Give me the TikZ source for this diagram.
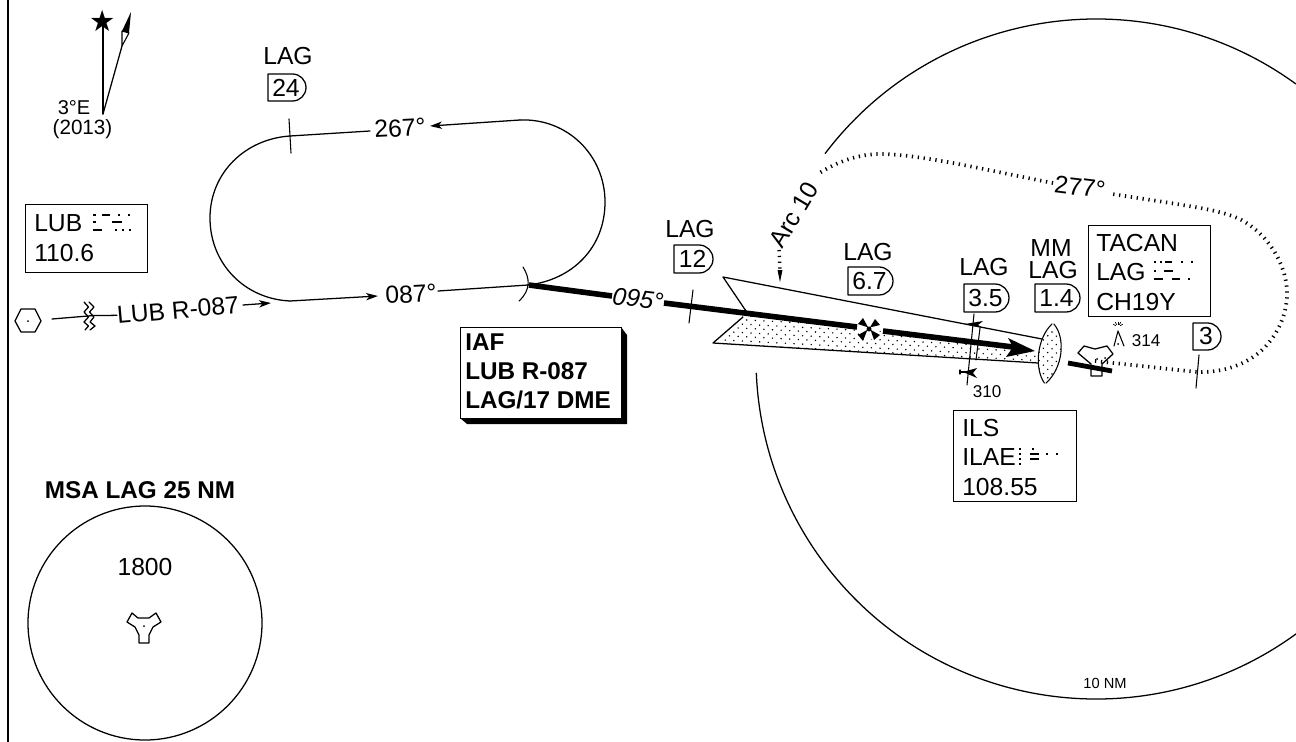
\documentclass[tikz,border=0pt]{standalone}
\usepackage{fontspec}
\setmainfont{Liberation Sans}
\usetikzlibrary{arrows.meta}
\tikzset{
  line/.style={line width=0.95pt,line cap=round,line join=round},
  thin line/.style={line width=0.8pt,line cap=round,line join=round},
  track/.style={line width=4.2pt},
  tipped/.style={line,-{Stealth[length=9pt,width=5.5pt,inset=2.5pt]}},
  ticks/.style={line width=2.8pt,dash pattern=on 0.95pt off 3.5pt},
  morsemark/.style={line width=0.95pt},
  label/.style={inner sep=0pt,font=\fontsize{18.5}{18}\selectfont},
  small label/.style={inner sep=0pt,font=\fontsize{12.8}{13}\selectfont},
  bold label/.style={inner sep=0pt,font=\bfseries\fontsize{18.2}{18}\selectfont},
  left label/.style={label,anchor=west},
  bold left/.style={bold label,anchor=west},
  infobox/.style={draw,line width=1.1pt,anchor=north west,inner sep=0pt},
}
\newcommand{\badge}[6]{% name x1 y1 x2 y2 text
  \draw[line] (#2,#3) -- ({#4-(#5-#3)/2},#3) arc[start angle=-90,end angle=90,radius={(#5-#3)/2}] -- (#2,#5) -- cycle;
  \node[label] (#1) at ({#2+(#4-#2)/2-1},{(#3+#5)/2}) {#6};
}
\newcommand{\stipple}{%
  \foreach \r in {0,...,18}{
    \foreach \c in {0,...,42}{
      \fill ({708+\c*8.6+mod(\r,2)*4.3},{314+\r*4.2+\c*0.45}) circle[radius=0.8];
    }
  }
}
\begin{document}
\begin{tikzpicture}[x=0.75pt,y=-0.75pt]
\useasboundingbox (0,0) rectangle (1296,742);
% frame edge
\coordinate (frameT) at (8,0);
\coordinate (frameB) at (8,742);
\draw[line width=1.1pt] (frameT) -- (frameB);

% north arrows
\coordinate (magO) at (103,114);
\node[inner sep=0pt,font=\fontsize{22}{22}\selectfont] (star) at (103,21) {\fontspec{DejaVu Sans}★};
\coordinate (magK) at (122,46);
\draw[line] (magO) -- (103,26);
\draw[line] (magO) -- (magK);
\draw[thin line,fill=white] (122,31) -- (129,33) -- (magK) -- cycle;
\fill (131,12) -- (122,31) -- (129,33) -- cycle;
\node[inner sep=0pt,font=\fontsize{15}{15}\selectfont] (var) at (74,108) {3°E};
\node[inner sep=0pt,font=\fontsize{15.5}{15}\selectfont] (year) at (82.5,129) {(2013)};

% LUB box
\node[infobox,minimum width=122*0.75pt,minimum height=68*0.75pt] (lubbox) at (25,204) {};
\node[left label] (lubid) at (34,223) {LUB};
\node[left label] (lubfr) at (34,253) {110.6};
\draw[morsemark] (93,215)--(96,215) (102,215)--(110,215) (118,215)--(120,215) (128,215)--(130,215)
  (93,222)--(96,222) (112,222)--(122,222)
  (93,230)--(102,230) (115,230)--(117,230) (122,230)--(124,230) (129,230)--(131,230);

% VOR hexagon and radial
\node[inner sep=0pt] (hexc) at (28,321) {};
\draw[line] (15,321)--(21,309)--(35,309)--(41,321)--(35,332)--(21,332)--cycle;
\fill (hexc) circle[radius=1];
\coordinate (rad1) at (52,319);
\coordinate (rad3) at (94,315.5);
\node[label,rotate=5] (radial) at (178,310) {LUB R-087};
\draw[line] (rad1) -- (rad3) -- (radial.west);
\draw[line] (84,302)--(88.5,307)--(84,312)--(88.5,317)--(84,322)--(88.5,326)--(85,330);
\draw[line] (89,302)--(94,307)--(89.5,312)--(94,317)--(90,322)--(95,326)--(90,330);
\coordinate (ra1) at (243,305);
\coordinate (ra2) at (271,303);
\draw[tipped] (ra1) -- (ra2);

% holding pattern
\coordinate (hLL) at (290,301);
\coordinate (hLU) at (290,136);
\coordinate (hRL) at (528,285);
\coordinate (hRU) at (520,120);
\node[label,rotate=3] (t087) at (411,294) {087°};
\node[label,rotate=3] (t267) at (400,128) {267°};
\coordinate (h087a) at (378,296);
\coordinate (h087b) at (438,291);
\coordinate (h267a) at (430,126);
\coordinate (h267b) at (370,131);
\draw[tipped] (hLL) -- (h087a);
\draw[line] (h087b) -- (hRL);
\draw[tipped] (hRU) -- (h267a);
\draw[line] (h267b) -- (hLU);
\draw[line] (hLU) .. controls (245,139) and (210,173) .. (210,218) .. controls (210,264) and (245,299) .. (hLL);
\draw[line] (hRU) .. controls (567,118) and (605,155) .. (605,202) .. controls (605,248) and (572,280) .. (hRL);
\draw[thin line] (289,119) -- (291,153);
\draw[thin line] (523,267) .. controls (530,278) and (531,290) .. (519,301);
\node[label] (l24) at (288,56) {LAG};
\badge{b24}{268}{74}{306}{101}{24}

% IAF box
\fill (621,327)--(627,335)--(627,424)--(467,424)--(460,418)--cycle;
\node[infobox,fill=white,minimum width=161*0.75pt,minimum height=91*0.75pt] (iafbox) at (460,327) {};
\node[bold left] (iaf1) at (465,342) {IAF};
\node[bold left] (iaf2) at (465,371) {LUB R-087};
\node[bold left] (iaf3) at (465,400) {LAG/17 DME};

% final approach feather
\begin{scope}
\clip (746,313)--(713,343)--(1038,363)--(1038,351)--cycle;
\stipple
\end{scope}
\coordinate (fA) at (723,277);
\coordinate (fB) at (746,311);
\coordinate (fC) at (1042,339);
\coordinate (fD) at (743,317);
\coordinate (fE) at (713,343);
\coordinate (fF) at (1038,363);
\draw[line] (fC) -- (fA) -- (fB);
\draw[line] (fD) -- (fE) -- (fF);

% thick track
\coordinate (tr0) at (529,285);
\coordinate (tr1) at (612,296);
\coordinate (tr2) at (664,303);
\coordinate (tr3) at (857,327);
\coordinate (tr4) at (883,331);
\coordinate (tr5) at (1013,347);
\node[inner sep=0pt,font=\itshape\fontsize{18.5}{18}\selectfont,rotate=-7] (t095) at (638,299) {095°};
\draw[track] (tr0) -- (tr1);
\draw[track] (tr2) -- (tr3);
\fill[white] (869,329) circle[radius=11];
\draw[track] (tr4) -- (tr5);
\fill (1008,338) -- (1035,351) -- (1006,357) -- (1013,347) -- cycle;
\draw[thin line] (693,290) -- (689,323);
% FAF cross
\node[inner sep=0pt,minimum size=2pt] (faf) at (869,329) {};
\fill (faf) -- (863,318) -- (858,324) -- cycle;
\fill (faf) -- (875,319) -- (880,325) -- cycle;
\fill (faf) -- (880,335) -- (874,340) -- cycle;
\fill (faf) -- (858,335) -- (863,341) -- cycle;
\fill (faf) circle[radius=2.5];

% labels above the approach
\node[label] (l12) at (690,229) {LAG};
\badge{b12}{674}{245}{713}{273}{12}
\node[label] (l67) at (868,252) {LAG};
\badge{b67}{848}{267}{893}{295}{6.7}
\node[label] (l35) at (984,267) {LAG};
\badge{b35}{964}{284}{1009}{312}{3.5}
\node[label] (lmm) at (1051,248) {MM};
\node[label] (lml) at (1053,270) {LAG};
\badge{b14}{1035}{284}{1080}{312}{1.4}

% step-down fix
\draw[thin line] (974,314) -- (967,385);
\draw[thin line] (980,328) -- (976,360);
\fill (965,324) -- (983,321) -- (978,325) -- (983,328) -- cycle;
\fill (963,372) -- (977,368) -- (973,373) -- (977,378) -- cycle;
\draw[line] (960,370) -- (960,374) (960,372) -- (966,372);
\node[small label] (o310) at (987,392) {310};

% middle marker lens
\begin{scope}
\clip (1053,323) .. controls (1066,338) and (1063,368) .. (1045,384) .. controls (1034,368) and (1037,338) .. (1053,323) -- cycle;
\stipple
\end{scope}
\node[inner sep=0pt] (lensT) at (1053,323) {};
\node[inner sep=0pt] (lensB) at (1045,384) {};
\draw[thin line] (lensT) .. controls (1066,338) and (1063,368) .. (lensB) .. controls (1034,368) and (1037,338) .. (lensT);

% airport symbol and runway
\draw[line] (1078,353)--(1084,346)--(1095,349)--(1107,346)--(1113,354)--(1102,364)--(1102,376)--(1091,376)--(1091,364)--cycle;
\coordinate (rw1) at (1068,363);
\coordinate (rw2) at (1112,371);
\draw[line width=3.6pt] (rw1) -- (rw2);
\fill (1097,359) circle[radius=1] (1105,358) circle[radius=1];

% obstacle
\draw[thin line] (1114,346) -- (1118,331) -- (1124,346);
\fill (1118,344) circle[radius=1];
\foreach \a in {-150,-120,-90,-60,-30}{
  \draw[line width=0.5pt] (1118,327) ++(\a:2.5) -- ++(\a:3);
}
\node[small label] (o314) at (1146,341) {314};

% TACAN box
\node[infobox,minimum width=122*0.75pt,minimum height=91*0.75pt] (tacbox) at (1088,225) {};
\node[left label] (tac1) at (1096,243) {TACAN};
\node[left label] (tac2) at (1096,272) {LAG};
\node[left label] (tac3) at (1096,302) {CH19Y};
\draw[morsemark] (1154,262)--(1156,262) (1160,262)--(1162,262) (1165,262)--(1172,262) (1181,262)--(1183,262) (1191,262)--(1193,262)
  (1154,271)--(1156,271) (1164,271)--(1173,271)
  (1154,279)--(1163,279) (1172,279)--(1180,279) (1188,279)--(1190,279);

% ILS box
\node[infobox,minimum width=123*0.75pt,minimum height=91*0.75pt] (ilsbox) at (953,410) {};
\node[left label] (ils1) at (962,428) {ILS};
\node[left label] (ils2) at (962,457) {ILAE};
\node[left label] (ils3) at (962,487) {108.55};
\draw[morsemark] (1019,449)--(1021,449) (1019,454)--(1021,454) (1019,459)--(1021,459) (1019,464)--(1021,464)
  (1032,449)--(1034,449) (1030,454)--(1039,454) (1030,459)--(1039,459)
  (1046,454)--(1048,454) (1056,454)--(1058,454);

% arc and DME ring
\draw[line] (1096,359) ++(217.2:340) arc[start angle=217.2,end angle=306,radius=340];
\draw[line] (1096,359) ++(53.9:340) arc[start angle=53.9,end angle=177.6,radius=340];
\node[inner sep=0pt,font=\fontsize{11}{11}\selectfont] (nm10) at (1105,683) {10 NM};

% procedure turn dotted track
\node[label,rotate=-7] (t277) at (1080,187) {277°};
\coordinate (dotS) at (1095,361);
\coordinate (dotE) at (1112,194);
\coordinate (dotF) at (1053,183);
\coordinate (dotG) at (818,174);
\draw[ticks] (dotS) -- (1197,372) .. controls (1225,373) and (1248,363) .. (1262,350)
  .. controls (1280,333) and (1288,310) .. (1287,290) .. controls (1285,262) and (1268,236) .. (1245,222)
  .. controls (1225,210) and (1195,207) .. (dotE);
\draw[ticks] (dotF) .. controls (1000,173) and (930,156) .. (885,154) .. controls (858,153) and (835,163) .. (dotG);
\node[label,rotate=59] (arc10) at (794,215) {Arc 10};
\coordinate (aw1) at (779,250);
\coordinate (aw2) at (780,282);
\draw[line width=2.6pt,dash pattern=on 0.95pt off 3.4pt] (aw1) -- (780,272);
\fill (aw2) -- (777.5,270) -- (782.5,270) -- cycle;
\badge{b3}{1193}{323}{1221}{350}{3}
\draw[thin line] (1199,355) -- (1196,388);

% MSA
\node[bold label] (msa) at (140,490) {MSA LAG 25 NM};
\node[circle,draw,line width=0.95pt,minimum size=234*0.75pt,inner sep=0pt] (msac) at (145,623) {};
\node[label] (msav) at (145,567) {1800};
\draw[line] (127,622)--(132,613)--(138,618)--(149,618)--(156,613)--(161,622)--(153,627)--(149,635)--(149,643)--(139,643)--(139,635)--(135,627)--cycle;
\fill (144,626) circle[radius=1];
\end{tikzpicture}
\end{document}
